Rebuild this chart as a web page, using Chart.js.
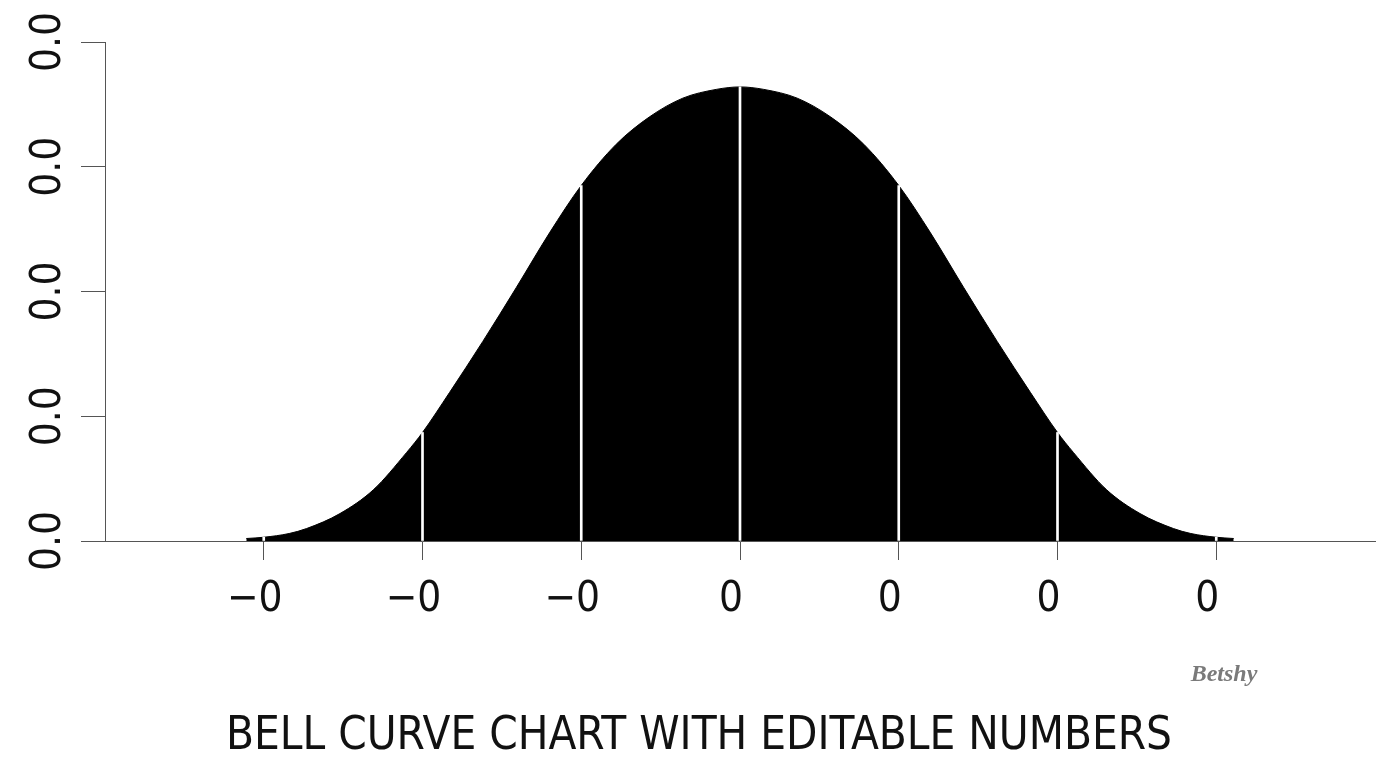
<!DOCTYPE html>
<html>
<head>
<meta charset="utf-8">
<script src="https://cdn.jsdelivr.net/npm/chart.js@4.4.1/dist/chart.umd.min.js"></script>
<style>
    html, body { margin: 0; padding: 0; background: #fff; }
    #wrap { width: 1400px; height: 766px; }
</style>
</head>
<body>
<div id="wrap"><canvas id="bell" width="1400" height="766"></canvas></div>
<script>
// curve (x in tick units, y in axis units)
const curveX = [-0.311, -0.300, -0.284, -0.273, -0.252, -0.231, -0.210, -0.200, -0.183,
    -0.162, -0.141, -0.120, -0.100, -0.078, -0.057, -0.036, -0.015, 0,
    0.015, 0.036, 0.057, 0.078, 0.100, 0.120, 0.141, 0.162, 0.183,
    0.200, 0.210, 0.231, 0.252, 0.273, 0.284, 0.300, 0.311];
const curveY = [0.0002, 0.0003, 0.0006, 0.0010, 0.0022, 0.0041, 0.0071, 0.0087, 0.0119,
    0.0160, 0.0203, 0.0247, 0.0285, 0.0318, 0.0340, 0.0355, 0.0362, 0.0364,
    0.0362, 0.0355, 0.0340, 0.0318, 0.0285, 0.0247, 0.0203, 0.0160, 0.0119,
    0.0087, 0.0071, 0.0041, 0.0022, 0.0010, 0.0006, 0.0003, 0.0002];

// white sigma lines
const sigmaX = [-0.3, -0.2, -0.1, 0, 0.1, 0.2, 0.3];
const sigmaY = [0.0003, 0.0087, 0.0285, 0.0364, 0.0285, 0.0087, 0.0003];

const xTicks = [-0.3, -0.2, -0.1, 0, 0.1, 0.2, 0.3];
const yTicks = [0, 0.01, 0.02, 0.03, 0.04];

const chartTitle = 'BELL CURVE CHART WITH EDITABLE NUMBERS';
const watermark = 'Betshy';

const narrow = "'Liberation Sans Narrow', 'Arial Narrow', 'DejaVu Sans Condensed', sans-serif";
const axisColor = '#555';

// y labels (rotated), title and watermark
const textPlugin = {
    id: 'bellText',
    afterDraw(chart) {
        const ctx = chart.ctx;
        const y = chart.scales.y;
        ctx.save();
        ctx.fillStyle = '#111';
        ctx.font = `42px ${narrow}`;
        ctx.textAlign = 'center';
        ctx.textBaseline = 'middle';
        yTicks.forEach(v => {
            ctx.save();
            ctx.translate(49, y.getPixelForValue(v));
            ctx.rotate(-Math.PI / 2);
            ctx.fillText(v.toFixed(1), 0, 0);
            ctx.restore();
        });

        ctx.font = `47px ${narrow}`;
        ctx.fillText(chartTitle, 699, 737, 946);

        ctx.fillStyle = '#7a7a7a';
        ctx.font = "italic bold 24px 'Liberation Serif', 'DejaVu Serif', serif";
        ctx.fillText(watermark, 1224, 675);
        ctx.restore();
    }
};

new Chart(document.getElementById('bell'), {
    type: 'line',
    data: {
        datasets: [
            {
                type: 'bar',
                data: sigmaX.map((x, i) => ({ x, y: sigmaY[i] })),
                backgroundColor: '#fff',
                barThickness: 2,
                order: 0
            },
            {
                type: 'line',
                data: curveX.map((x, i) => ({ x, y: curveY[i] })),
                borderColor: '#000',
                borderWidth: 1,
                backgroundColor: '#000',
                fill: 'origin',
                pointRadius: 0,
                cubicInterpolationMode: 'monotone',
                order: 1
            }
        ]
    },
    options: {
        responsive: false,
        animation: false,
        devicePixelRatio: 1,
        layout: { padding: { top: 42, right: 25, left: 0, bottom: 0 } },
        plugins: {
            legend: { display: false },
            tooltip: { enabled: false }
        },
        scales: {
            x: {
                type: 'linear',
                min: -0.4,
                max: 0.4,
                offset: false,
                afterFit: s => { s.height = 225; },
                afterBuildTicks: s => { s.ticks = xTicks.map(v => ({ value: v })); },
                grid: { drawOnChartArea: false, offset: false, color: axisColor, tickLength: 19 },
                border: { color: axisColor, width: 1 },
                ticks: {
                    color: '#111',
                    font: { family: narrow, size: 42 },
                    padding: 15,
                    labelOffset: -9,
                    maxRotation: 0,
                    callback: v => (v < 0 ? '\u2212' : '') + Math.abs(Math.round(v))
                }
            },
            y: {
                min: 0,
                max: 0.04,
                afterFit: s => { s.width = 105; },
                afterBuildTicks: s => { s.ticks = yTicks.map(v => ({ value: v })); },
                grid: { drawOnChartArea: false, offset: false, color: axisColor, tickLength: 24 },
                border: { color: axisColor, width: 1 },
                ticks: { display: false }
            }
        }
    },
    plugins: [textPlugin]
});
</script>
</body>
</html>
